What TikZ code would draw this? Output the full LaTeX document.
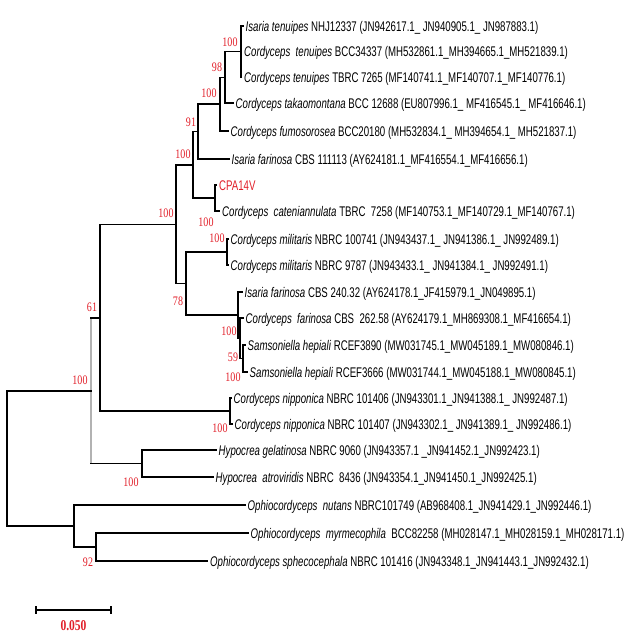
\documentclass[tikz,border=0pt]{standalone}
\usepackage{fontspec}
\newfontfamily\leaffont[FakeStretch=0.69]{Liberation Sans}
\newfontfamily\bsfont[FakeStretch=0.77]{Liberation Serif}
\definecolor{bsred}{RGB}{225,30,40}
\begin{document}
\begin{tikzpicture}[x=1pt,y=-1pt,
  br/.style={line width=1.2pt, black, line cap=rect},
  leaf/.style={anchor=west, inner xsep=2.5pt, inner ysep=0pt, text height=10pt, text depth=0pt, font=\leaffont\fontsize{14}{14}\selectfont},
  bs/.style={text=bsred, inner sep=0pt, text depth=0pt, font=\bsfont\fontsize{13}{13}\selectfont},
]
\useasboundingbox (0,0) rectangle (624,641);
% leaves
\node[leaf] (l1) at (243,26) {\textit{Isaria tenuipes} NHJ12337 (JN942617.1\_ JN940905.1\_ JN987883.1)};
\node[leaf] (l2) at (241.5,51) {\textit{Cordyceps\ \ tenuipes} BCC34337 (MH532861.1\_MH394665.1\_MH521839.1)};
\node[leaf] (l3) at (241.5,77) {\textit{Cordyceps tenuipes} TBRC 7265 (MF140741.1\_MF140707.1\_MF140776.1)};
\node[leaf] (l4) at (233,103) {\textit{Cordyceps takaomontana} BCC 12688 (EU807996.1\_ MF416545.1\_ MF416646.1)};
\node[leaf] (l5) at (228,131) {\textit{Cordyceps fumosorosea} BCC20180 (MH532834.1\_ MH394654.1\_ MH521837.1)};
\node[leaf] (l6) at (229,159) {\textit{Isaria farinosa} CBS 111113 (AY624181.1\_MF416554.1\_MF416656.1)};
\node[leaf, text=bsred] (l7) at (216.5,185) {CPA14V};
\node[leaf] (l8) at (219.5,211) {\textit{Cordyceps\ \ cateniannulata} TBRC\ \ 7258 (MF140753.1\_MF140729.1\_MF140767.1)};
\node[leaf] (l9) at (228,239) {\textit{Cordyceps militaris} NBRC 100741 (JN943437.1\_ JN941386.1\_ JN992489.1)};
\node[leaf] (l10) at (228,265) {\textit{Cordyceps militaris} NBRC 9787 (JN943433.1\_ JN941384.1\_ JN992491.1)};
\node[leaf] (l11) at (242,292) {\textit{Isaria farinosa} CBS 240.32 (AY624178.1\_JF415979.1\_JN049895.1)};
\node[leaf] (l12) at (243,318) {\textit{Cordyceps\ \ farinosa} CBS\ \ 262.58 (AY624179.1\_MH869308.1\_MF416654.1)};
\node[leaf] (l13) at (245,345) {\textit{Samsoniella hepiali} RCEF3890 (MW031745.1\_MW045189.1\_MW080846.1)};
\node[leaf] (l14) at (247,372) {\textit{Samsoniella hepiali} RCEF3666 (MW031744.1\_MW045188.1\_MW080845.1)};
\node[leaf] (l15) at (231,398) {\textit{Cordyceps nipponica} NBRC 101406 (JN943301.1\_JN941388.1\_ JN992487.1)};
\node[leaf] (l16) at (232,424) {\textit{Cordyceps nipponica} NBRC 101407 (JN943302.1\_ JN941389.1\_ JN992486.1)};
\node[leaf] (l17) at (216,450) {\textit{Hypocrea gelatinosa} NBRC 9060 (JN943357.1 \_JN941452.1\_JN992423.1)};
\node[leaf] (l18) at (213,477) {\textit{Hypocrea\ \ atroviridis} NBRC\ \ 8436 (JN943354.1\_JN941450.1\_JN992425.1)};
\node[leaf] (l19) at (245,505) {\textit{Ophiocordyceps\ \ nutans} NBRC101749 (AB968408.1\_JN941429.1\_JN992446.1)};
\node[leaf] (l20) at (248,533) {\textit{Ophiocordyceps\ \ myrmecophila}\ \ BCC82258 (MH028147.1\_MH028159.1\_MH028171.1)};
\node[leaf] (l21) at (207.5,561) {\textit{Ophiocordyceps sphecocephala} NBRC 101416 (JN943348.1\_JN941443.1\_JN992432.1)};
% internal nodes
\coordinate (T) at (241,51.5);
\coordinate (n98) at (225,77.5);
\coordinate (n220) at (220,104);
\coordinate (n91) at (198,131.5);
\coordinate (cpa) at (215,198);
\coordinate (n193) at (193,165);
\coordinate (mil) at (227,252);
\coordinate (Z) at (243,358.5);
\coordinate (Y) at (240,338);
\coordinate (X) at (238,315);
\coordinate (n78) at (186,283.5);
\coordinate (n176) at (176,224.5);
\coordinate (nip) at (230,411);
\coordinate (n100b) at (100,318);
\coordinate (hyp) at (142,463.5);
\coordinate (n61) at (91,391);
\coordinate (oph2) at (96,547);
\coordinate (oph) at (74,526);
\coordinate (root) at (7,458);
% branches
\draw[br] (T) |- (l1.west) (T) |- (l2.west) (T) |- (l3.west);
\draw[br] (n98) |- (T) (n98) |- (l4.west);
\draw[br] (n220) |- (n98) (n220) |- (l5.west);
\draw[br] (n91) |- (n220) (n91) |- (l6.west);
\draw[br] (n193) |- (n91) (n193) |- (cpa);
\draw[br] (cpa) |- (l7.west) (cpa) |- (l8.west);
\draw[br] (n176) |- (n193) (n176) |- (n78);
\draw[br] (n78) |- (mil) (n78) |- (X);
\draw[br] (mil) |- (l9.west) (mil) |- (l10.west);
\draw[br] (X) |- (l11.west) (X) |- (Y);
\draw[br] (Y) |- (l12.west) (Y) |- (Z);
\draw[br] (Z) |- (l13.west) (Z) |- (l14.west);
\draw[br] (n100b) |- (n176) (n100b) |- (nip);
\draw[br] (nip) |- (l15.west) (nip) |- (l16.west);
\draw[br, gray!60] (n61 |- n100b) -- (n61 |- hyp);
\draw[br] (n61 |- n100b) -- (n100b) (n61 |- hyp) -- (hyp);
\draw[br] (hyp) |- (l17.west) (hyp) |- (l18.west);
\draw[br] (root) |- (n61) (root) |- (oph);
\draw[br] (oph) |- (l19.west) (oph) |- (oph2);
\draw[br] (oph2) |- (l20.west) (oph2) |- (l21.west);
% bootstrap values
\node[bs] (b1) at (230,42) {100};
\node[bs] (b2) at (217,67) {98};
\node[bs] (b3) at (209,93) {100};
\node[bs] (b4) at (191,122) {91};
\node[bs] (b5) at (183,154) {100};
\node[bs] (b6) at (166,213) {100};
\node[bs] (b7) at (206,222) {100};
\node[bs] (b8) at (217,238) {100};
\node[bs] (b9) at (178,301) {78};
\node[bs] (b10) at (229,331) {100};
\node[bs] (b11) at (233,357) {59};
\node[bs] (b12) at (233,377) {100};
\node[bs] (b13) at (92,307) {61};
\node[bs] (b14) at (220,428) {100};
\node[bs] (b15) at (80,380) {100};
\node[bs] (b16) at (131,482) {100};
\node[bs] (b17) at (88,562) {92};
% scale bar
\coordinate (sb1) at (36,610);
\coordinate (sb2) at (111,610);
\draw[br, line cap=butt] (sb1) -- (sb2);
\draw[br, line cap=butt] ([yshift=4pt]sb1) -- ([yshift=-4pt]sb1);
\draw[br, line cap=butt] ([yshift=4pt]sb2) -- ([yshift=-4pt]sb2);
\node[bs, font=\bsfont\bfseries\fontsize{15}{15}\selectfont] (sbl) at (73.5,626) {0.050};
\end{tikzpicture}
\end{document}
